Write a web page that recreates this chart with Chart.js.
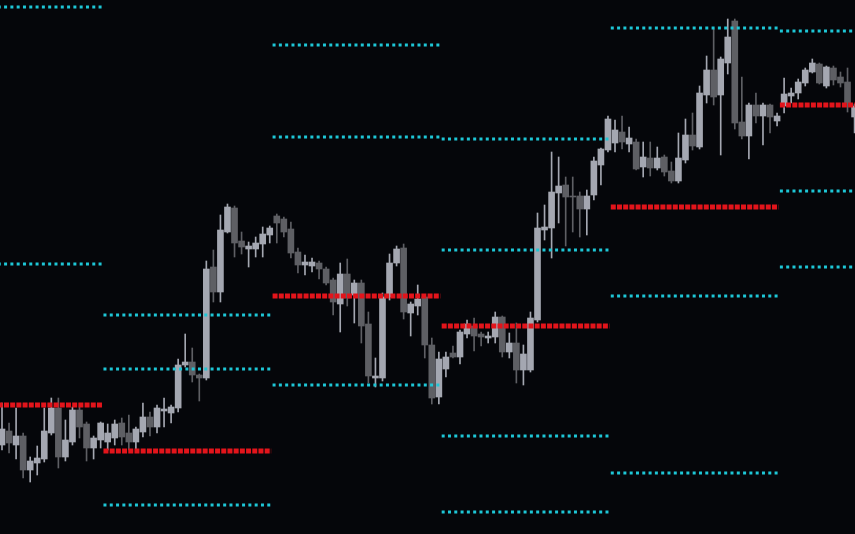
<!DOCTYPE html>
<html><head><meta charset="utf-8">
<script src="https://cdn.jsdelivr.net/npm/chart.js@4.4.1/dist/chart.umd.min.js"></script>
<style>html,body{margin:0;padding:0;background:#05060a;overflow:hidden}#wrap{width:855px;height:534px;position:relative}</style>
</head><body><div id="wrap"><canvas id="c"></canvas></div>
<script>
// hourly candles (price in points)
const opens = [89,103,89,98,64,71,75,101,126,77, 92,124,110,86,94,92,96,111,101,92, 102,117,107,123,121,126,169,172,159,156, 267,242,302,326,293,285,285,290,299,318, 315,305,282,269,268,271,265,254,230,260, 239,251,210,156,156,237,271,286,221,228, 237,189,137,165,181,177,200,208,200,196, 197,217,182,191,164,164,214,304,306,341, 349,338,338,325,339,369,384,391,402,390, 392,367,376,366,377,363,353,374,399,387, 439,464,439,471,513,412,398,429,418,429, 413,428,438,441,451,462,470,448,466,457, 452,417];
const highs = [131,111,126,101,77,88,126,136,136,114, 127,127,112,98,112,110,114,116,119,107, 131,122,129,136,129,175,200,186,160,273, 284,319,330,328,302,292,297,307,308,320, 317,312,286,279,276,273,267,256,271,275, 254,254,222,176,241,280,288,290,232,249, 239,196,182,182,188,204,214,216,202,202, 222,218,201,211,189,222,321,329,382,377, 357,357,342,344,377,386,418,414,418,407, 395,392,392,387,379,372,401,415,421,448, 478,505,477,515,515,457,431,441,431,430, 421,456,446,455,466,475,471,468,468,462, 466,430];
const lows = [84,81,75,56,52,59,72,99,66,73, 89,96,73,75,86,84,89,89,84,84, 97,98,101,107,111,122,167,152,133,154, 232,232,301,277,280,267,277,277,291,291, 297,276,261,259,262,255,249,219,202,228, 211,191,151,147,153,234,268,215,198,219, 176,130,130,157,176,170,196,183,188,191, 191,177,176,151,149,162,212,294,276,311, 288,302,297,299,334,349,382,382,385,382, 364,357,358,364,358,351,351,371,384,385, 431,429,379,460,405,395,375,411,389,401, 408,421,431,435,448,461,450,446,449,447, 422,401];
const closes = [105,91,98,64,73,76,103,126,77,94, 124,107,86,96,111,101,110,97,92,105, 117,107,126,125,127,169,172,159,156,265, 242,304,327,291,287,288,291,300,306,311, 302,281,269,272,272,265,251,232,260,236, 251,208,158,158,237,271,285,222,230,235, 189,136,175,177,177,202,210,198,197,198, 217,182,191,164,180,216,306,307,342,348, 337,337,325,338,373,385,415,404,392,396, 365,377,366,376,362,353,376,399,388,441, 464,437,475,497,411,398,429,418,429,417, 418,440,441,452,464,471,451,467,454,451, 431,428];

// daily sessions (candle index ranges) and pivot levels
const sessionStarts = [0, 15, 39, 63, 87, 111];
const sessionEnds   = [14, 38, 62, 86, 110, 121];
const levelR2 = [527, 219, 489, 395, null, null];
const levelR1 = [270, 165, 397, 284, 506, 503];
const levelP  = [129, 83, 238, 208, 327, 429];
const levelS1 = [null, 29, 149, 98, 238, 343];
const levelS2 = [null, null, null, 22, 61, 267];

const BULL = '#a4a7b1', BEAR = '#5e5f64';
const CYAN = '#1ec6d6', RED = '#e3141b';

const colors = opens.map((o, i) => closes[i] >= o ? BULL : BEAR);
const bodies = opens.map((o, i) => ({x: i, y: [o, closes[i]]}));
const wicks = opens.map((o, i) => ({x: i, y: [lows[i], highs[i]]}));

const datasets = [];
function addLevels(arr, color, width, dash) {
  arr.forEach((v, s) => {
    if (v === null) return;
    datasets.push({
      type: 'line', order: 0,
      data: [{x: sessionStarts[s] - 0.6, y: v}, {x: sessionEnds[s] + 0.2, y: v}],
      borderColor: color, borderWidth: width, borderDash: dash, borderCapStyle: 'butt',
      pointRadius: 0, fill: false, tension: 0
    });
  });
}
addLevels(levelR2, CYAN, 3, [3, 3.3]);
addLevels(levelR1, CYAN, 3, [3, 3.3]);
addLevels(levelS1, CYAN, 3, [3, 3.3]);
addLevels(levelS2, CYAN, 3, [3, 3.3]);
addLevels(levelP, RED, 5, [5, 1.2]);

datasets.push({type: 'bar', order: 1, data: bodies, backgroundColor: colors, barThickness: 6, grouped: false, borderWidth: 0});
datasets.push({type: 'bar', order: 2, data: wicks, backgroundColor: colors, barThickness: 1, grouped: false, borderWidth: 0});

new Chart(document.getElementById('c'), {
  type: 'bar',
  data: {datasets},
  options: {
    responsive: true, maintainAspectRatio: false, animation: false,
    layout: {padding: 0},
    plugins: {legend: {display: false}, tooltip: {enabled: false}},
    scales: {
      x: {type: 'linear', display: false, min: -0.284, max: 121.06, offset: false},
      y: {type: 'linear', display: false, min: 0, max: 534}
    }
  }
});
</script></body></html>
